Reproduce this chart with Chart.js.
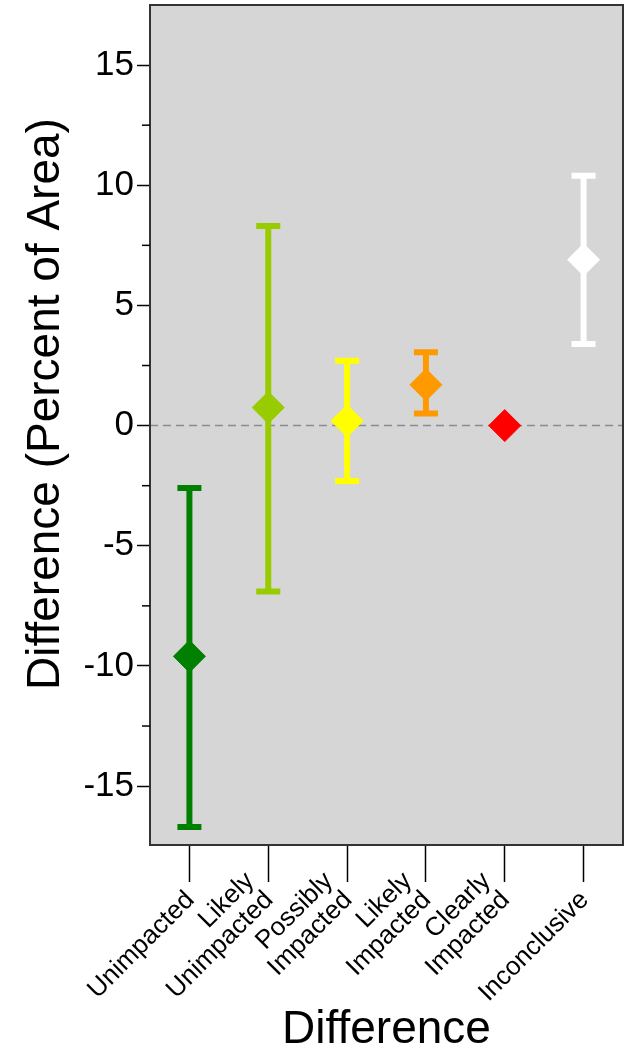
<!DOCTYPE html>
<html>
<head>
<meta charset="utf-8">
<script src="https://cdn.jsdelivr.net/npm/chart.js@4"></script>
<style>
  html, body { margin: 0; padding: 0; background: #fff; }
  #wrap { width: 624px; height: 1061px; position: relative; }
</style>
</head>
<body>
<div id="wrap"><canvas id="errChart"></canvas></div>
<script>
// data
const categories = [['Unimpacted'], ['Likely', 'Unimpacted'], ['Possibly', 'Impacted'],
                    ['Likely', 'Impacted'], ['Clearly', 'Impacted'], ['Inconclusive']];
const means = [-9.6, 0.75, 0.2, 1.7, 0.0, 6.9];
const upper = [-2.6, 8.3, 2.7, 3.05, null, 10.4];
const lower = [-16.7, -6.9, -2.3, 0.5, null, 3.4];
const colors = ['#008000', '#99cc00', '#ffff00', '#ff9900', '#ff0000', '#ffffff'];
const yTicks = [-15, -10, -5, 0, 5, 10, 15];
const yMinor = [-17.5, -12.5, -7.5, -2.5, 2.5, 7.5, 12.5];

const FONT = 'Liberation Sans, Arial, Helvetica, sans-serif';

// grey plot background, frame, zero line and minor ticks
const plotDecor = {
  id: 'plotDecor',
  beforeDraw(chart) {
    const { ctx, chartArea: a } = chart;
    ctx.save();
    ctx.fillStyle = '#d6d6d6';
    ctx.fillRect(a.left, a.top, a.right - a.left, a.bottom - a.top);
    ctx.restore();
  },
  beforeDatasetsDraw(chart) {
    const { ctx, chartArea: a, scales } = chart;
    const y = scales.y, x = scales.x;
    ctx.save();
    // zero line
    const y0 = y.getPixelForValue(0);
    ctx.strokeStyle = '#8c8c8c';
    ctx.lineWidth = 1.5;
    ctx.setLineDash([8, 5]);
    ctx.beginPath();
    ctx.moveTo(a.left, y0);
    ctx.lineTo(a.right, y0);
    ctx.stroke();
    ctx.setLineDash([]);
    // error bars
    means.forEach((m, i) => {
      if (upper[i] == null) return;
      const px = x.getPixelForValue(i);
      const yu = y.getPixelForValue(upper[i]);
      const yl = y.getPixelForValue(lower[i]);
      ctx.strokeStyle = colors[i];
      ctx.lineWidth = 6;
      ctx.beginPath();
      ctx.moveTo(px, yu);
      ctx.lineTo(px, yl);
      ctx.stroke();
      ctx.beginPath();
      ctx.moveTo(px - 12, yu);
      ctx.lineTo(px + 12, yu);
      ctx.moveTo(px - 12, yl);
      ctx.lineTo(px + 12, yl);
      ctx.stroke();
    });
    ctx.restore();
  },
  afterDraw(chart) {
    const { ctx, chartArea: a, scales } = chart;
    const y = scales.y, x = scales.x;
    ctx.save();
    // frame
    ctx.strokeStyle = '#333';
    ctx.lineWidth = 2;
    ctx.strokeRect(a.left, a.top, a.right - a.left, a.bottom - a.top);
    // minor y ticks
    ctx.strokeStyle = '#000';
    ctx.lineWidth = 1.5;
    yMinor.forEach(v => {
      const py = y.getPixelForValue(v);
      if (py < a.top || py > a.bottom) return;
      ctx.beginPath();
      ctx.moveTo(a.left - 8, py);
      ctx.lineTo(a.left, py);
      ctx.stroke();
    });
    // rotated category labels, last line sits at the tick
    ctx.fillStyle = '#000';
    ctx.font = '26px ' + FONT;
    ctx.textAlign = 'right';
    ctx.textBaseline = 'middle';
    const lh = 27;
    categories.forEach((lines, i) => {
      const px = x.getPixelForValue(i);
      ctx.save();
      ctx.translate(px + 1, a.bottom + 51);
      ctx.rotate(-Math.PI / 4);
      const n = lines.length;
      lines.forEach((t, k) => {
        ctx.fillText(t, 0, (k - (n - 1)) * lh);
      });
      ctx.restore();
    });
    // axis titles
    ctx.font = '46px ' + FONT;
    ctx.textAlign = 'center';
    ctx.textBaseline = 'alphabetic';
    ctx.fillText('Difference', (a.left + a.right) / 2, 1043);
    ctx.save();
    ctx.translate(59, 404);
    ctx.rotate(-Math.PI / 2);
    ctx.fillText('Difference (Percent of Area)', 0, 0);
    ctx.restore();
    ctx.restore();
  }
};

new Chart(document.getElementById('errChart'), {
  type: 'line',
  data: {
    labels: categories,
    datasets: [{
      label: 'Difference',
      data: means,
      showLine: false,
      pointStyle: 'rectRot',
      pointRadius: 16,
      pointHoverRadius: 16,
      pointBackgroundColor: colors,
      pointBorderColor: colors,
      pointBorderWidth: 1,
      clip: false
    }]
  },
  options: {
    responsive: true,
    maintainAspectRatio: false,
    animation: false,
    events: [],
    layout: { autoPadding: false, padding: { top: 5, right: 1, left: 0, bottom: 0 } },
    plugins: {
      legend: { display: false },
      tooltip: { enabled: false }
    },
    scales: {
      x: {
        type: 'category',
        offset: true,
        afterFit(scale) {
          scale.height = 1061 - 845;
          scale.paddingLeft = 0;
          scale.paddingRight = 0;
        },
        grid: {
          drawOnChartArea: false,
          drawTicks: true,
          tickLength: 37,
          tickColor: '#000',
          tickWidth: 1.5,
          offset: false
        },
        border: { display: false },
        ticks: { display: false }
      },
      y: {
        min: -17.45,
        max: 17.5,
        afterFit(scale) {
          scale.width = 150;
          scale.paddingTop = 0;
          scale.paddingBottom = 0;
        },
        afterBuildTicks(scale) { scale.ticks = yTicks.map(v => ({ value: v })); },
        grid: {
          drawOnChartArea: false,
          drawTicks: true,
          tickLength: 13,
          tickColor: '#000',
          tickWidth: 1.5
        },
        border: { display: false },
        ticks: {
          color: '#000',
          padding: 3,
          font: { family: FONT, size: 35 }
        }
      }
    }
  },
  plugins: [plotDecor]
});
</script>
</body>
</html>
